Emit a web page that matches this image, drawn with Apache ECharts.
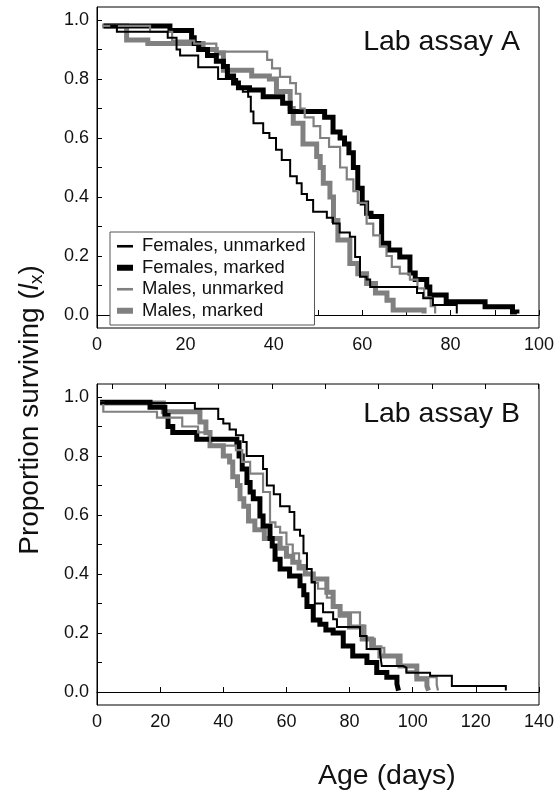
<!DOCTYPE html>
<html><head><meta charset="utf-8">
<script src="https://cdn.jsdelivr.net/npm/echarts@6/dist/echarts.min.js"></script>
<style>html,body{margin:0;padding:0;background:#fff}#c{width:559px;height:797px}</style>
</head><body><div id="c"></div>
<script>
const seriesNames = ['Females, unmarked', 'Females, marked', 'Males, unmarked', 'Males, marked'];
const panelTitles = ['Lab assay A', 'Lab assay B'];
const yTickValues = [0, 0.1, 0.2, 0.3, 0.4, 0.5, 0.6, 0.7, 0.8, 0.9, 1.0];
const yLabelValues = [0, 0.2, 0.4, 0.6, 0.8, 1.0];
const xLabelsA = [0, 20, 40, 60, 80, 100];
const xTicksA = [0, 10, 20, 30, 40, 50, 60, 70, 80, 90, 100];
const xLabelsB = [0, 20, 40, 60, 80, 100, 120, 140];
const topTicksB = [0, 20, 40, 60, 80, 100, 120, 140, 160];

// Lab assay A : [age (days), proportion surviving]
const femUnmarkedA = [[3,0.98],[4.5,0.96],[16,0.94],[18,0.90],[18.8,0.88],[22.9,0.84],[27.4,0.80],[31.7,0.774],[33,0.757],[34.2,0.74],[34.8,0.69],[35.4,0.65],[37.6,0.617],[39,0.60],[40.5,0.56],[41.8,0.525],[43.7,0.47],[45.2,0.447],[46.3,0.41],[47.5,0.39],[48.9,0.35],[52,0.33],[53.4,0.31],[54.9,0.28],[57.2,0.265],[58.4,0.197],[59.5,0.13],[61,0.12],[61.8,0.095],[72.4,0.075],[73.8,0.057],[76,0.034],[81.4,0.005]];
const femMarkedA = [[1.5,0.98],[16.5,0.964],[21.4,0.94],[22,0.92],[23,0.90],[25,0.88],[27,0.86],[28.6,0.842],[29.5,0.81],[30.9,0.786],[32,0.77],[34.5,0.763],[37.6,0.74],[42,0.718],[43.7,0.69],[51.5,0.67],[53.4,0.62],[55,0.60],[56,0.58],[57,0.55],[58,0.50],[59,0.43],[60,0.38],[61,0.345],[62,0.334],[64.4,0.243],[66,0.22],[68.5,0.197],[70.8,0.142],[72,0.12],[74.6,0.095],[75.3,0.068],[79,0.045],[87.8,0.028],[94,0.01],[95,0.005]];
const maleUnmarkedA = [[1.2,0.98],[12,0.96],[17,0.93],[22,0.92],[27,0.893],[38.5,0.865],[39.6,0.836],[41.4,0.807],[43.7,0.786],[45,0.75],[46,0.70],[47,0.67],[49,0.64],[50.5,0.60],[52.5,0.57],[55,0.50],[56.5,0.46],[58,0.42],[59,0.38],[61,0.31],[62.5,0.27],[64,0.232],[65.5,0.20],[66.7,0.163],[68.5,0.14],[70.8,0.12],[72.5,0.09],[74,0.06],[75.5,0.03],[76.5,0.005]];
const maleMarkedA = [[1.2,0.98],[6.7,0.932],[11.5,0.92],[24,0.90],[27,0.888],[28.6,0.83],[35,0.81],[39,0.80],[40.6,0.758],[43.7,0.70],[44.4,0.65],[46.6,0.58],[49.7,0.537],[50.5,0.50],[51.2,0.447],[52.7,0.40],[53.5,0.32],[54.5,0.254],[57.2,0.175],[59,0.14],[61,0.107],[63,0.075],[65.6,0.05],[67,0.017],[74,0.005]];

// Lab assay B
const femUnmarkedB = [[1,0.98],[31,0.96],[38.4,0.925],[40,0.91],[42,0.89],[44,0.87],[46.3,0.847],[47.4,0.80],[52.6,0.756],[53.8,0.70],[56,0.67],[58,0.63],[61,0.61],[62.5,0.55],[64.3,0.53],[65.4,0.47],[66.5,0.417],[68,0.373],[69,0.30],[71.6,0.27],[74.8,0.247],[76,0.22],[83.3,0.19],[85.4,0.146],[89.6,0.135],[90.2,0.088],[97,0.083],[98,0.065],[105.5,0.055],[112.4,0.02],[129.5,0.005]];
const femMarkedB = [[1,0.982],[16.8,0.965],[21.5,0.937],[22.5,0.9],[24,0.88],[31.6,0.857],[44.3,0.845],[45,0.80],[46,0.756],[47.5,0.71],[48.5,0.678],[49.5,0.655],[51.6,0.597],[52.6,0.563],[54.8,0.52],[55.5,0.495],[56.4,0.45],[58,0.417],[61,0.393],[64.3,0.36],[65.5,0.33],[66.5,0.29],[68.5,0.244],[70.6,0.23],[72.5,0.21],[74.8,0.2],[78,0.156],[81,0.122],[85.5,0.1],[88.6,0.066],[91.8,0.05],[95,0.027],[95.5,0.005]];
const maleUnmarkedB = [[1,0.98],[2,0.95],[19,0.93],[27,0.90],[32,0.88],[35.8,0.835],[44,0.82],[46,0.78],[48.5,0.74],[52.6,0.678],[54.8,0.575],[56.5,0.56],[58,0.54],[60,0.50],[62,0.47],[64,0.43],[66,0.40],[68,0.37],[70,0.35],[72.8,0.32],[75,0.29],[77,0.27],[83.3,0.225],[85,0.18],[88,0.15],[91,0.12],[95,0.09],[98,0.07],[101,0.05],[107.6,0.025],[108,0.005]];
const maleMarkedB = [[1,0.98],[21,0.95],[32.6,0.915],[34.5,0.88],[35.8,0.835],[40,0.80],[42,0.78],[43,0.73],[44.5,0.70],[45.3,0.655],[46.5,0.63],[48,0.58],[50,0.55],[53,0.52],[57,0.52],[58,0.487],[60,0.46],[62,0.44],[64,0.42],[66,0.40],[68.5,0.383],[72.8,0.338],[74.8,0.29],[77,0.26],[80,0.22],[84,0.18],[87,0.15],[89.6,0.122],[96,0.088],[101.3,0.044],[104.5,0.02],[105,0.005]];

const FONT = 'Liberation Sans, Arial, Helvetica, sans-serif';
const BLACK = '#000000', GRAY = '#808080';
const styles = {
  'Females, unmarked': {color: BLACK, width: 2},
  'Females, marked': {color: BLACK, width: 5},
  'Males, unmarked': {color: GRAY, width: 2.2},
  'Males, marked': {color: GRAY, width: 5}
};
const drawOrder = ['Males, marked', 'Females, marked', 'Males, unmarked', 'Females, unmarked'];
const dataA = {'Females, unmarked': femUnmarkedA, 'Females, marked': femMarkedA, 'Males, unmarked': maleUnmarkedA, 'Males, marked': maleMarkedA};
const dataB = {'Females, unmarked': femUnmarkedB, 'Females, marked': femMarkedB, 'Males, unmarked': maleUnmarkedB, 'Males, marked': maleMarkedB};

function mkSeries(idx, data) {
  return drawOrder.map(n => ({
    name: n, type: 'line', step: 'end', xAxisIndex: idx, yAxisIndex: idx,
    data: data[n], symbol: 'none', silent: true, animation: false,
    lineStyle: {color: styles[n].color, width: styles[n].width, cap: 'butt', join: 'miter'},
    itemStyle: {color: styles[n].color}
  }));
}
function yAxis(idx) {
  return {
    type: 'value', gridIndex: idx, min: -0.044, max: 1.044,
    axisLine: {show: true, lineStyle: {color: '#000', width: 1}},
    axisTick: {show: true, inside: true, length: 5, customValues: yTickValues, lineStyle: {color: '#000'}},
    axisLabel: {customValues: yLabelValues, formatter: v => v.toFixed(1), fontFamily: FONT, fontSize: 18, color: '#111', margin: 8},
    splitLine: {show: false}
  };
}
const chart = echarts.init(document.getElementById('c'), null, {renderer: 'canvas'});
chart.setOption({
  animation: false,
  backgroundColor: '#fff',
  grid: [
    {left: 97, top: 7, width: 442, height: 321, show: true, borderColor: '#000', borderWidth: 1, containLabel: false},
    {left: 97, top: 384, width: 442, height: 321, show: true, borderColor: '#000', borderWidth: 1, containLabel: false}
  ],
  xAxis: [
    {type: 'value', gridIndex: 0, min: 0, max: 100,
     axisLine: {show: true, lineStyle: {color: '#000'}},
     axisTick: {show: true, inside: true, length: 5, customValues: xTicksA, lineStyle: {color: '#000'}},
     axisLabel: {customValues: xLabelsA, fontFamily: FONT, fontSize: 18, color: '#111', margin: 8},
     splitLine: {show: false}},
    {type: 'value', gridIndex: 1, min: 0, max: 140,
     axisLine: {show: true, lineStyle: {color: '#000'}},
     axisTick: {show: true, inside: true, length: 5, customValues: xLabelsB, lineStyle: {color: '#000'}},
     axisLabel: {customValues: xLabelsB, fontFamily: FONT, fontSize: 18, color: '#111', margin: 8},
     splitLine: {show: false}},
    {type: 'value', gridIndex: 1, position: 'top', min: -5.6, max: 160.2,
     axisLine: {show: false},
     axisTick: {show: true, inside: true, length: 5, customValues: topTicksB, lineStyle: {color: '#000'}},
     axisLabel: {show: false},
     splitLine: {show: false}}
  ],
  yAxis: [yAxis(0), yAxis(1)],
  legend: {
    data: seriesNames.map(n => ({name: n, icon: styles[n].width > 3 ? 'path://M0,0H16V6H0Z' : 'path://M0,0H16V2.6H0Z'})),
    orient: 'vertical', left: 110, top: 232, itemWidth: 16, itemHeight: 14, itemGap: 1,
    padding: [4, 9, 4, 7], borderColor: '#555', borderWidth: 1, backgroundColor: '#fff',
    selectedMode: false,
    textStyle: {fontFamily: FONT, fontSize: 18.5, color: '#111', lineHeight: 20.5, padding: [0, 0, 0, 4]}
  },
  series: [...mkSeries(0, dataA), ...mkSeries(1, dataB)],
  graphic: [
    {type: 'text', right: 39, top: 28, style: {text: panelTitles[0], font: '28.5px ' + FONT, fill: '#111'}},
    {type: 'text', right: 39, top: 400, style: {text: panelTitles[1], font: '28.5px ' + FONT, fill: '#111'}},
    {type: 'text', left: 318, top: 762, style: {text: 'Age (days)', font: '28.5px ' + FONT, fill: '#111', align: 'center'}},
    {type: 'text', x: 30, y: 410, rotation: Math.PI / 2,
     style: {text: 'Proportion surviving ({i|l}{s|x})', font: '28px ' + FONT, fill: '#111', align: 'center', verticalAlign: 'middle',
       rich: {i: {font: 'italic 28px ' + FONT, fill: '#111'}, s: {font: '19px ' + FONT, fill: '#111', padding: [14, 0, 0, 0]}}}}
  ]
});
</script>
</body></html>
